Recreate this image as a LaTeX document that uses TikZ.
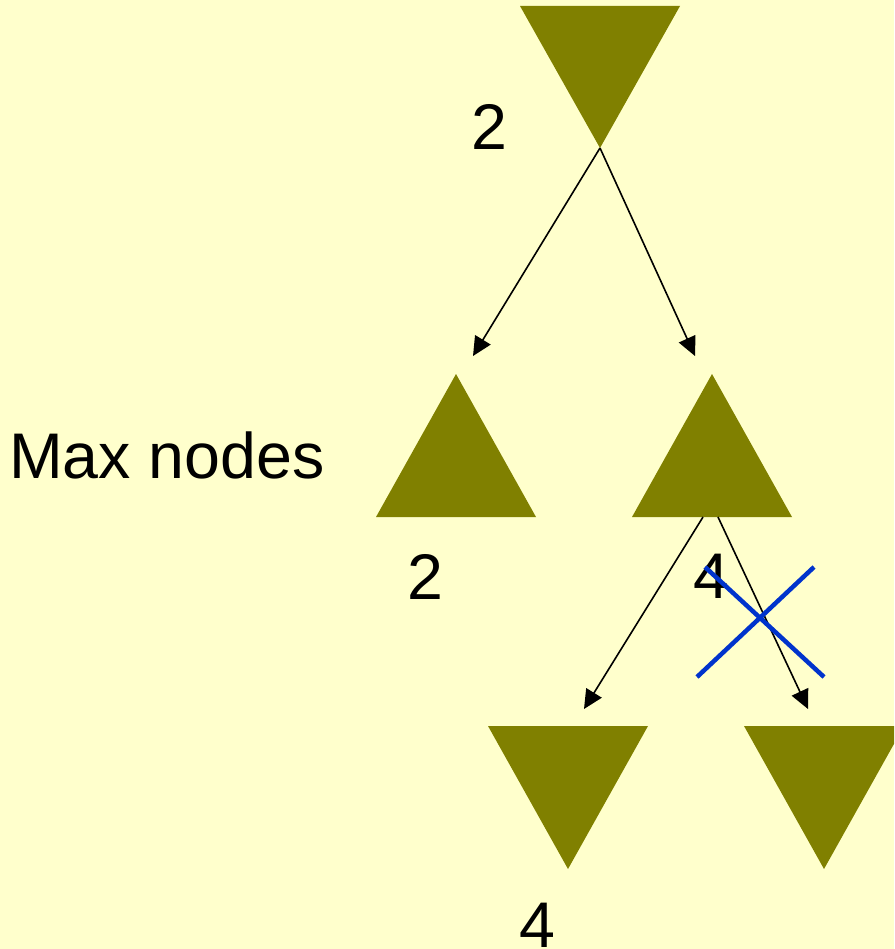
\documentclass[tikz,border=0pt]{standalone}
\usepackage{fontspec}
\setmainfont{Liberation Sans}
\usetikzlibrary{arrows.meta}
\definecolor{bgyellow}{HTML}{FFFFCC}
\definecolor{olivetri}{HTML}{808000}
\definecolor{crossblue}{HTML}{0033CC}
\begin{document}
\begin{tikzpicture}[x=1pt,y=-1pt,
  tri/.style={fill=olivetri,draw=none},
  edge/.style={draw=black,line width=1.6pt,-{Triangle[length=19pt,width=18pt]}},
  lbl/.style={font=\fontsize{64.5}{70}\selectfont,inner sep=0pt,anchor=base},
  cross/.style={draw=crossblue,line width=4.5pt}]
\fill[bgyellow] (0,0) rectangle (894,949);
\useasboundingbox (0,0) rectangle (894,949);
% triangles
\fill[tri] (520,6) -- (680,6) -- (600,148) -- cycle;
\fill[tri] (376,517) -- (536,517) -- (456,374) -- cycle;
\fill[tri] (632,517) -- (792,517) -- (712,374) -- cycle;
\fill[tri] (488,726) -- (648,726) -- (568,869) -- cycle;
\begin{scope}
\clip (0,0) rectangle (894,949);
\fill[tri] (744,726) -- (904,726) -- (824,869) -- cycle;
\end{scope}
% coordinates
\coordinate (rootapex) at (600,148);
\coordinate (leftend) at (473,356);
\coordinate (rightend) at (695,356);
\coordinate (maxbaseA) at (703,517);
\coordinate (maxbaseB) at (718,517);
\coordinate (minleftend) at (584,709);
\coordinate (minrightend) at (808,709);
% edges
\draw[edge] (rootapex) -- (leftend);
\draw[edge] (rootapex) -- (rightend);
\draw[edge] (maxbaseA) -- (minleftend);
\draw[edge] (maxbaseB) -- (minrightend);
% labels
\node[lbl] (v0) at (489,150) {2};
\node[lbl,anchor=base west] (maxlbl) at (9,478) {Max nodes};
\node[lbl] (v1) at (425,599) {2};
\node[lbl] (v2) at (711,598) {4};
\node[lbl] (v3) at (537,947) {4};
% cross
\coordinate (xa) at (705,567);
\coordinate (xb) at (824,677);
\coordinate (xc) at (814,567);
\coordinate (xd) at (697,677);
\draw[cross] (xa) -- (xb);
\draw[cross] (xc) -- (xd);
\end{tikzpicture}
\end{document}
